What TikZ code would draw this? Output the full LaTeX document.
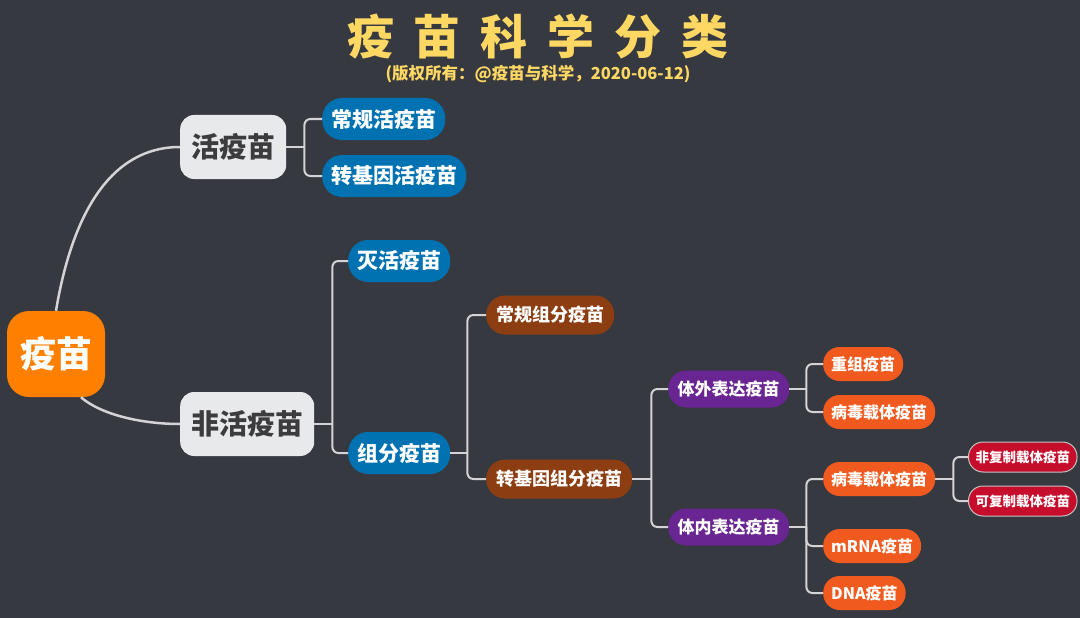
\documentclass[tikz,border=0pt]{standalone}
\usepackage{fontspec}
\newfontfamily\cjk{Noto Sans CJK SC}
\usetikzlibrary{calc}
\definecolor{bgdark}{RGB}{54,57,64}
\definecolor{titleyellow}{RGB}{255,216,100}
\definecolor{rootorange}{RGB}{255,128,0}
\definecolor{nodegray}{RGB}{232,233,235}
\definecolor{textgray}{RGB}{60,60,62}
\definecolor{blueb}{RGB}{0,114,178}
\definecolor{brownb}{RGB}{140,62,18}
\definecolor{purpleb}{RGB}{105,37,145}
\definecolor{orangeb}{RGB}{240,90,30}
\definecolor{redb}{RGB}{198,14,44}
\definecolor{linegray}{RGB}{212,212,214}
\newcommand{\fs}[1]{\fontsize{#1}{#1}\selectfont}
\newcommand{\tgap}{\hspace{20pt}}

\begin{document}
\begin{tikzpicture}[x=1pt,y=-1pt,
  every node/.style={font=\cjk\bfseries,text=white,inner sep=0pt},
  lvroot/.style={fill=rootorange,rounded corners=22pt,minimum width=98pt,minimum height=86pt,font=\cjk\bfseries\fs{36}},
  lvone/.style={fill=nodegray,text=textgray,rounded corners=14pt,minimum height=64pt,inner xsep=11pt,font=\cjk\bfseries\fs{28}},
  lvtwo/.style={fill=blueb,rounded corners=20pt,minimum height=42pt,inner xsep=9pt,font=\cjk\bfseries\fs{21}},
  lvthree/.style={fill=brownb,rounded corners=19pt,minimum height=39pt,inner xsep=10pt,font=\cjk\bfseries\fs{18}},
  lvfour/.style={fill=purpleb,rounded corners=18pt,minimum height=37pt,inner xsep=9.5pt,font=\cjk\bfseries\fs{17}},
  lvfive/.style={fill=orangeb,rounded corners=16.5pt,minimum height=34pt,inner xsep=8pt,font=\cjk\bfseries\fs{16}},
  lvsix/.style={fill=redb,draw=linegray!80!gray,line width=1pt,rounded corners=14.5pt,minimum height=30pt,inner xsep=7pt,font=\cjk\bfseries\fs{13.5}},
  trunk/.style={draw=linegray,line width=2.5pt},
  branch/.style={draw=linegray,line width=2pt,rounded corners=6pt}]
\fill[bgdark] (0,0) rectangle (1080,618);
\useasboundingbox (0,0) rectangle (1080,618);

% title
\node[text=titleyellow,font=\cjk\bfseries\fs{47}] (title) at (538,37) {疫\tgap 苗\tgap 科\tgap 学\tgap 分\tgap 类};
\node[text=titleyellow,font=\cjk\bfseries\fs{16.5}] (credit) at (538,74) {(版权所有：@疫苗与科学，2020-06-12)};

% tree
\node[lvroot] (root) at (56,354) {疫苗};
\node[lvone,anchor=west] (live) at (180,147) {活疫苗};
\node[lvone,anchor=west] (dead) at (180,424) {非活疫苗};

\node[lvtwo,anchor=west] (regLive) at (322,119) {常规活疫苗};
\node[lvtwo,anchor=west] (gmLive) at (322,176) {转基因活疫苗};
\node[lvtwo,anchor=west] (inact) at (348,261) {灭活疫苗};
\node[lvtwo,anchor=west] (subunit) at (348,453) {组分疫苗};

\node[lvthree,anchor=west] (regSub) at (486,315) {常规组分疫苗};
\node[lvthree,anchor=west] (gmSub) at (486,479) {转基因组分疫苗};

\node[lvfour,anchor=west] (vitro) at (668,389) {体外表达疫苗};
\node[lvfour,anchor=west] (vivo) at (668,527) {体内表达疫苗};

\node[lvfive,anchor=west] (recomb) at (823,364) {重组疫苗};
\node[lvfive,anchor=west] (vecA) at (823,412) {病毒载体疫苗};
\node[lvfive,anchor=west] (vecB) at (823,479) {病毒载体疫苗};
\node[lvfive,anchor=west] (mrna) at (823,546) {mRNA疫苗};
\node[lvfive,anchor=west] (dna) at (823,593) {DNA疫苗};

\node[lvsix,anchor=west] (nonRep) at (968,457) {非复制载体疫苗};
\node[lvsix,anchor=west] (rep) at (968,501) {可复制载体疫苗};

% connectors
\draw[trunk] (root.north) .. controls (72,215) and (110,147) .. (live.west);
\draw[trunk] (root.-60) .. controls (100,414) and (140,424) .. (dead.west);

\draw[branch] (live.east) -- ++(18,0) coordinate (jLive);
\foreach \c in {regLive,gmLive} \draw[branch] (jLive) |- (\c.west);
\draw[branch] (dead.east) -- ++(18,0) coordinate (jDead);
\foreach \c in {inact,subunit} \draw[branch] (jDead) |- (\c.west);
\draw[branch] (subunit.east) -- ++(17,0) coordinate (jSub);
\foreach \c in {regSub,gmSub} \draw[branch] (jSub) |- (\c.west);
\draw[branch] (gmSub.east) -- ++(19,0) coordinate (jGm);
\foreach \c in {vitro,vivo} \draw[branch] (jGm) |- (\c.west);
\draw[branch] (vitro.east) -- ++(17,0) coordinate (jVitro);
\foreach \c in {recomb,vecA} \draw[branch] (jVitro) |- (\c.west);
\draw[branch] (vivo.east) -- ++(17,0) coordinate (jVivo);
\foreach \c in {vecB,mrna,dna} \draw[branch] (jVivo) |- (\c.west);
\draw[branch] (vecB.east) -- ++(18,0) coordinate (jVec);
\foreach \c in {nonRep,rep} \draw[branch] (jVec) |- (\c.west);
\end{tikzpicture}
\end{document}
